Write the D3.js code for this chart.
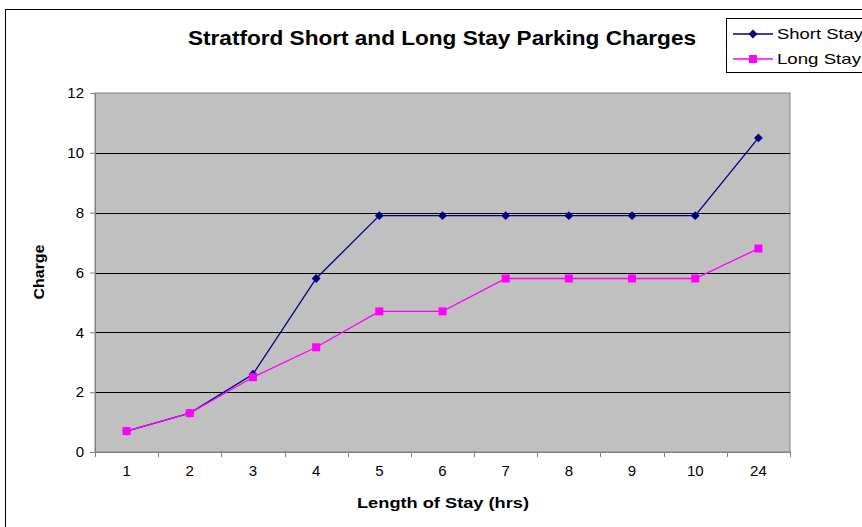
<!DOCTYPE html>
<html>
<head>
<meta charset="utf-8">
<script src="https://cdn.jsdelivr.net/npm/d3@7"></script>
<style>
  body { margin: 0; background: #fff; }
  svg text { font-family: Arial, "Liberation Sans", sans-serif; }
</style>
</head>
<body>
<svg width="862" height="527"></svg>
<script>
var hours = ['1', '2', '3', '4', '5', '6', '7', '8', '9', '10', '24'];
var shortStay = [0.7, 1.3, 2.6, 5.8, 7.9, 7.9, 7.9, 7.9, 7.9, 7.9, 10.5];
var longStay = [0.7, 1.3, 2.5, 3.5, 4.7, 4.7, 5.8, 5.8, 5.8, 5.8, 6.8];
var yTicks = [0, 2, 4, 6, 8, 10, 12];

var svg = d3.select('svg');

var plotLeft = 95, plotRight = 790, plotTop = 93, plotBottom = 452;

// outer chart frame
svg.append('rect')
  .attr('x', 5.5).attr('y', 9.5)
  .attr('width', 900).attr('height', 600)
  .attr('fill', 'white').attr('stroke', 'black');

var x = d3.scaleBand().domain(hours).range([plotLeft, plotRight]);
var y = d3.scaleLinear().domain([0, 12]).range([plotBottom, plotTop]);

svg.append('rect')
  .attr('x', plotLeft).attr('y', plotTop)
  .attr('width', plotRight - plotLeft).attr('height', plotBottom - plotTop)
  .attr('fill', '#c0c0c0')
  .attr('stroke', '#808080');

// gridlines
svg.append('g')
  .selectAll('line')
  .data(yTicks.filter(function(d) { return d > 0 && d < 12; }))
  .enter()
  .append('line')
  .attr('x1', plotLeft).attr('x2', plotRight)
  .attr('y1', function(d) { return Math.round(y(d)) + 0.5; })
  .attr('y2', function(d) { return Math.round(y(d)) + 0.5; })
  .attr('stroke', 'black');

var yAxis = svg.append('g')
  .attr('transform', 'translate(' + plotLeft + ',0)')
  .call(d3.axisLeft(y).tickValues(yTicks).tickSize(5).tickPadding(6));
yAxis.select('.domain').attr('stroke', '#808080');
yAxis.selectAll('.tick line').attr('stroke', '#808080');
yAxis.selectAll('text').attr('font-size', 15).attr('fill', 'black');

var xAxis = svg.append('g')
  .attr('transform', 'translate(0,' + plotBottom + ')')
  .call(d3.axisBottom(x).tickSize(0).tickPadding(13));
xAxis.select('.domain').attr('stroke', '#808080');
xAxis.selectAll('text').attr('font-size', 15).attr('fill', 'black');

// category tick marks between bands
svg.append('g')
  .selectAll('line')
  .data(hours)
  .enter()
  .append('line')
  .attr('x1', function(d) { return Math.round(x(d)) + 0.5; })
  .attr('x2', function(d) { return Math.round(x(d)) + 0.5; })
  .attr('y1', plotBottom).attr('y2', plotBottom + 5)
  .attr('stroke', '#808080');
svg.append('line')
  .attr('x1', plotRight + 0.5).attr('x2', plotRight + 0.5)
  .attr('y1', plotBottom).attr('y2', plotBottom + 5)
  .attr('stroke', '#808080');

var cx = function(d, i) { return x(hours[i]) + x.bandwidth() / 2; };
var line = d3.line().x(function(d, i) { return cx(d, i); }).y(function(d) { return y(d); });

svg.append('path')
  .datum(shortStay)
  .attr('d', line)
  .attr('fill', 'none')
  .attr('stroke', '#000080')
  .attr('stroke-width', 1.3);

svg.append('path')
  .datum(longStay)
  .attr('d', line)
  .attr('fill', 'none')
  .attr('stroke', '#ff00ff')
  .attr('stroke-width', 1.3);

var diamond = d3.symbol().type(d3.symbolDiamond2).size(50);

svg.append('g')
  .selectAll('path')
  .data(shortStay)
  .enter()
  .append('path')
  .attr('d', diamond)
  .attr('transform', function(d, i) { return 'translate(' + cx(d, i) + ',' + y(d) + ')'; })
  .attr('fill', '#000080');

svg.append('g')
  .selectAll('rect')
  .data(longStay)
  .enter()
  .append('rect')
  .attr('x', function(d, i) { return cx(d, i) - 4; })
  .attr('y', function(d) { return y(d) - 4; })
  .attr('width', 8).attr('height', 8)
  .attr('fill', '#ff00ff');

// titles
svg.append('text')
  .attr('x', 442).attr('y', 45)
  .attr('text-anchor', 'middle')
  .attr('font-size', 20).attr('font-weight', 'bold')
  .attr('textLength', 508).attr('lengthAdjust', 'spacingAndGlyphs')
  .text('Stratford Short and Long Stay Parking Charges');

svg.append('text')
  .attr('x', 443).attr('y', 508)
  .attr('text-anchor', 'middle')
  .attr('font-size', 15).attr('font-weight', 'bold')
  .attr('textLength', 172).attr('lengthAdjust', 'spacingAndGlyphs')
  .text('Length of Stay (hrs)');

svg.append('text')
  .attr('transform', 'translate(44,272) rotate(-90)')
  .attr('text-anchor', 'middle')
  .attr('font-size', 15).attr('font-weight', 'bold')
  .attr('textLength', 55).attr('lengthAdjust', 'spacingAndGlyphs')
  .text('Charge');

// legend
var legend = svg.append('g');
legend.append('rect')
  .attr('x', 726.5).attr('y', 18.5)
  .attr('width', 200).attr('height', 54)
  .attr('fill', 'white').attr('stroke', 'black');

var legendItems = [
  { name: 'Short Stay', color: '#000080', mark: 'diamond' },
  { name: 'Long Stay', color: '#ff00ff', mark: 'square' }
];

legendItems.forEach(function(item, i) {
  var ly = 34 + i * 25;
  legend.append('line')
    .attr('x1', 733).attr('x2', 773)
    .attr('y1', ly).attr('y2', ly)
    .attr('stroke', item.color).attr('stroke-width', 1.3);
  if (item.mark === 'diamond') {
    legend.append('path')
      .attr('d', diamond)
      .attr('transform', 'translate(753,' + ly + ')')
      .attr('fill', item.color);
  } else {
    legend.append('rect')
      .attr('x', 749).attr('y', ly - 4)
      .attr('width', 8).attr('height', 8)
      .attr('fill', item.color);
  }
  legend.append('text')
    .attr('x', 777).attr('y', ly + 5)
    .attr('font-size', 15)
    .attr('textLength', i === 0 ? 86 : 84).attr('lengthAdjust', 'spacingAndGlyphs')
    .text(item.name);
});
</script>
</body>
</html>
